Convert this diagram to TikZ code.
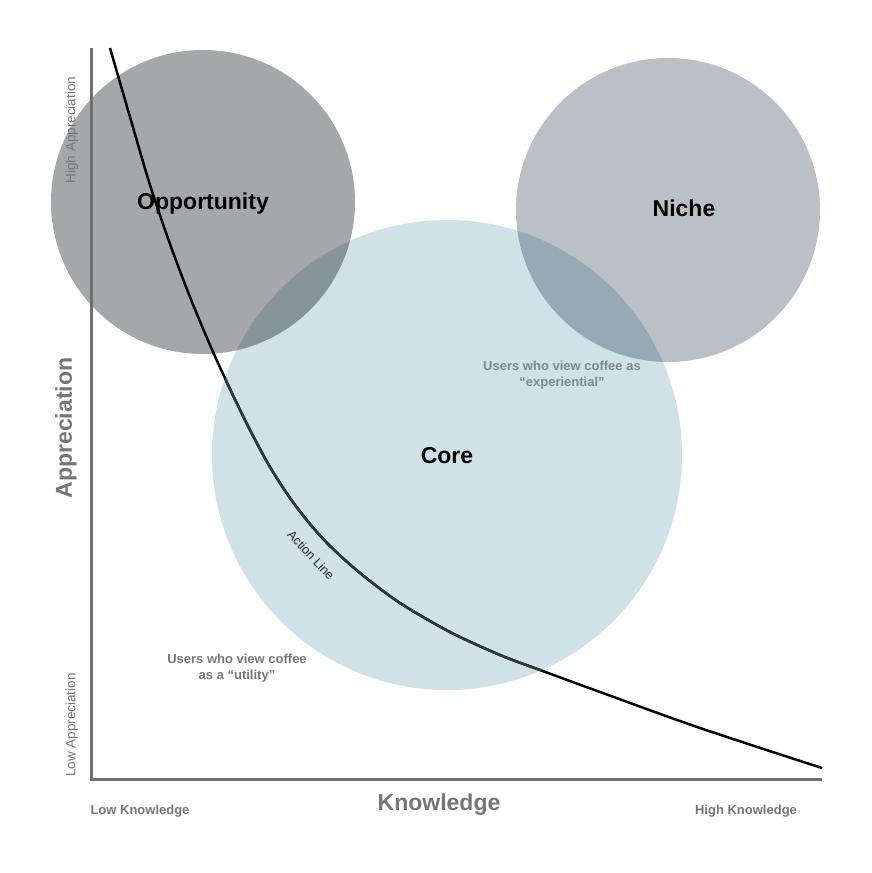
\documentclass[tikz,border=0pt]{standalone}
\usepackage{fontspec}
\setmainfont{Liberation Sans}
\begin{document}
\begin{tikzpicture}[x=1pt,y=-1pt,
  axis/.style={draw=axisgray,line width=3pt},
  title/.style={font=\bfseries\fontsize{23}{26}\selectfont,text=black},
  axtitle/.style={font=\bfseries\fontsize{23}{26}\selectfont,text=labgray},
  small/.style={font=\fontsize{13.5}{15}\selectfont,text=labgray},
  smallb/.style={font=\bfseries\fontsize{13}{16}\selectfont,text=labgray,align=center},
  mult/.style={blend mode=multiply},
  actline/.style={line width=2.5pt},
]
\definecolor{axisgray}{RGB}{112,112,112}
\definecolor{labgray}{RGB}{118,118,118}
\definecolor{oppfill}{RGB}{165,167,169}
\definecolor{nichefill}{RGB}{185,193,198}
\definecolor{corefill}{RGB}{208,225,231}
\definecolor{expgray}{RGB}{125,138,144}
\definecolor{slate}{RGB}{45,55,60}
\useasboundingbox[fill=white] (0,0) rectangle (872,873);
% circles
\fill[oppfill,mult] (203,202) circle[radius=152];
\fill[nichefill,mult] (668,210) circle[radius=152];
\fill[corefill,mult] (447,455) circle[radius=235];
% action line
\def\actpts{(110,48) (130,117) (150,185) (170,244) (190,297) (210,345) (230,389) (250,430) (270,467) (290,498) (310,524) (330,546) (360,573) (400,603) (450,632) (500,655) (540,670) (600,692) (700,728) (822,768)}
\draw[actline,black] plot[smooth,tension=0.5] coordinates {\actpts};
\begin{scope}
\clip (447,455) circle[radius=235];
\draw[actline,slate] plot[smooth,tension=0.5] coordinates {\actpts};
\end{scope}
% axes
\draw[axis] (91,48) -- (91,779) -- (822,779);
% nodes
\node[title] (oppl) at (203,204) {Opportunity};
\node[title] (nichel) at (684,208) {Niche};
\node[title] (corel) at (447,456) {Core};
\node[smallb,text=expgray] (exp) at (562,375) {Users who view coffee as\\“experiential”};
\node[smallb] (util) at (237,668) {Users who view coffee\\as a “utility”};
\node[font=\fontsize{12.5}{14}\selectfont,text=black!85,rotate=-47] (act) at (311,555) {Action Line};
\node[small,rotate=90] (hiA) at (72,130) {High Appreciation};
\node[axtitle,rotate=90] (apL) at (66,428) {Appreciation};
\node[small,rotate=90] (loA) at (72,725) {Low Appreciation};
\node[smallb] (loK) at (140,811) {Low Knowledge};
\node[axtitle] (kL) at (439,805) {Knowledge};
\node[smallb] (hiK) at (746,811) {High Knowledge};
\end{tikzpicture}
\end{document}
